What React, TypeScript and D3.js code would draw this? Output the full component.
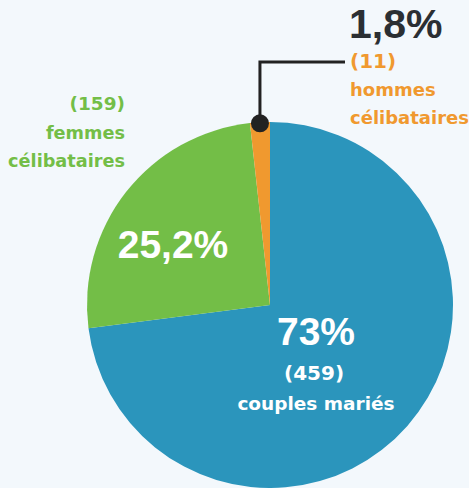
import React from "react";
import * as d3 from "d3";

const categories = ["couples mariés", "femmes célibataires", "hommes célibataires"];
const counts = [459, 159, 11];
const percentLabels = ["73%", "25,2%", "1,8%"];
const colors = ["#2b95bc", "#73be47", "#f0992f"];

const W = 469, H = 488;
const cx = 270, cy = 305, R = 183;

export default function App() {
  const pie = d3.pie<number>().sort(null).value((d) => d);
  const arcs = pie(counts);
  const arc = d3.arc<d3.PieArcDatum<number>>().innerRadius(0).outerRadius(R);
  const o = arcs[2];
  const mid = (o.startAngle + o.endAngle) / 2;
  const dotX = cx + Math.sin(mid) * R;
  const dotY = cy - Math.cos(mid) * R + 1;
  const font = "'DejaVu Sans', Verdana, sans-serif";
  const pfont = "'Liberation Sans', Arial, sans-serif";
  return (
    <svg width={W} height={H} style={{ position: "fixed", left: 0, top: 0, display: "block" }}>
      <rect width={W} height={H} fill="#f3f8fc" />
      <g transform={`translate(${cx},${cy})`}>
        {arcs.map((a, i) => (
          <path key={i} d={arc(a) || ""} fill={colors[i]} />
        ))}
      </g>
      <polyline points={`${dotX},${dotY} ${dotX},62 345,62`} fill="none" stroke="#222" strokeWidth={3} />
      <circle cx={dotX} cy={dotY} r={9} fill="#222" />
      <g fontFamily={pfont} fontWeight="bold">
        <text x={349} y={38} fontSize={41} fill="#2b2f33">{percentLabels[2]}</text>
        <text x={173} y={258} fontSize={39} fill="#fff" textAnchor="middle">{percentLabels[1]}</text>
        <text x={316} y={345} fontSize={39} fill="#fff" textAnchor="middle">{percentLabels[0]}</text>
      </g>
      <g fontFamily={font} fontWeight="bold">
        <text x={350} y={68} fontSize={20} fill={colors[2]}>({counts[2]})</text>
        <text x={350} y={96} fontSize={18} fill={colors[2]}>hommes</text>
        <text x={350} y={124} fontSize={18} fill={colors[2]}>célibataires</text>

        <text x={125} y={110} fontSize={18.5} fill={colors[1]} textAnchor="end">({counts[1]})</text>
        <text x={125} y={139} fontSize={17.7} fill={colors[1]} textAnchor="end">femmes</text>
        <text x={125} y={167} fontSize={17.7} fill={colors[1]} textAnchor="end">célibataires</text>

        <text x={314} y={380} fontSize={20} fill="#fff" textAnchor="middle">({counts[0]})</text>
        <text x={316} y={410} fontSize={18.5} fill="#fff" textAnchor="middle">{categories[0]}</text>
      </g>
    </svg>
  );
}
